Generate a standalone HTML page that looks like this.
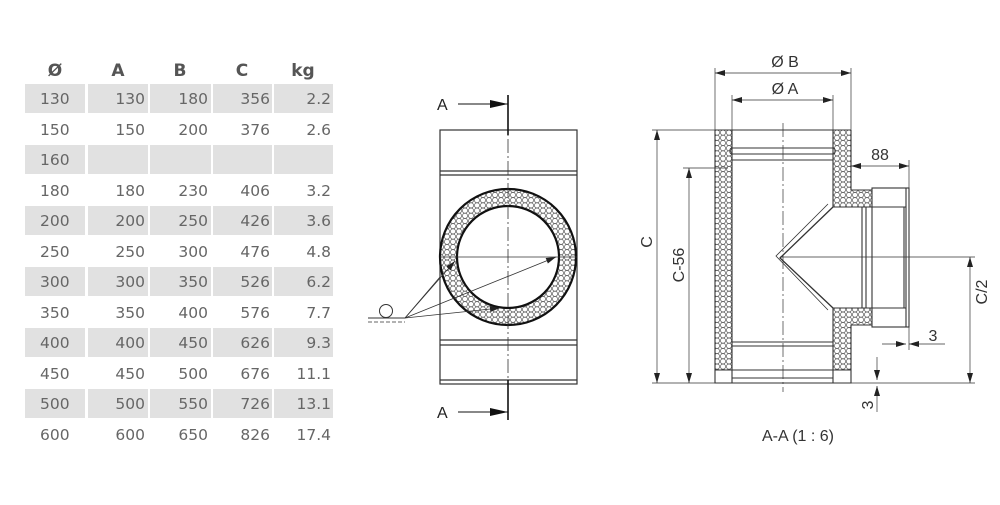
<!DOCTYPE html>
<html><head><meta charset="utf-8"><style>
body{margin:0;background:#fff;width:1000px;height:500px;overflow:hidden;font-family:"Liberation Sans","DejaVu Sans",sans-serif;}
</style></head><body>
<svg width="1000" height="500" viewBox="0 0 1000 500" xmlns="http://www.w3.org/2000/svg">
<defs>
<pattern id="hex" width="6" height="5.2" patternUnits="userSpaceOnUse">
<rect width="6" height="5.2" fill="#fff"/>
<circle cx="3" cy="2.6" r="2.6" fill="none" stroke="#444" stroke-width="0.6"/>
</pattern>
<marker id="ar" viewBox="0 0 10 6" refX="10" refY="3" markerWidth="10" markerHeight="6" orient="auto-start-reverse" markerUnits="userSpaceOnUse"><path d="M0,0 L10,3 L0,6z" fill="#222"/></marker>
<marker id="big" viewBox="0 0 18 8" refX="18" refY="4" markerWidth="18" markerHeight="8" orient="auto" markerUnits="userSpaceOnUse"><path d="M0,0 L18,4 L0,8z" fill="#111"/></marker>
</defs>

<!-- TABLE -->
<g font-family="DejaVu Sans, sans-serif" font-size="17" font-weight="bold" fill="#555" text-anchor="middle">
<text x="55" y="76">Ø</text><text x="118" y="76">A</text><text x="180" y="76">B</text><text x="242" y="76">C</text><text x="303" y="76">kg</text>
</g>
<g fill="#e1e1e1">
<rect x="25" y="84" width="60" height="29"/><rect x="88" y="84" width="60" height="29"/><rect x="150" y="84" width="61" height="29"/><rect x="213" y="84" width="59" height="29"/><rect x="274" y="84" width="59" height="29"/>
<rect x="25" y="145" width="60" height="29"/><rect x="88" y="145" width="60" height="29"/><rect x="150" y="145" width="61" height="29"/><rect x="213" y="145" width="59" height="29"/><rect x="274" y="145" width="59" height="29"/>
<rect x="25" y="206" width="60" height="29"/><rect x="88" y="206" width="60" height="29"/><rect x="150" y="206" width="61" height="29"/><rect x="213" y="206" width="59" height="29"/><rect x="274" y="206" width="59" height="29"/>
<rect x="25" y="267" width="60" height="29"/><rect x="88" y="267" width="60" height="29"/><rect x="150" y="267" width="61" height="29"/><rect x="213" y="267" width="59" height="29"/><rect x="274" y="267" width="59" height="29"/>
<rect x="25" y="328" width="60" height="29"/><rect x="88" y="328" width="60" height="29"/><rect x="150" y="328" width="61" height="29"/><rect x="213" y="328" width="59" height="29"/><rect x="274" y="328" width="59" height="29"/>
<rect x="25" y="389" width="60" height="29"/><rect x="88" y="389" width="60" height="29"/><rect x="150" y="389" width="61" height="29"/><rect x="213" y="389" width="59" height="29"/><rect x="274" y="389" width="59" height="29"/>
</g>
<g font-family="DejaVu Sans, sans-serif" font-size="15.5" fill="#666">
<g text-anchor="start">
<text x="40" y="104">130</text><text x="40" y="135">150</text><text x="40" y="165">160</text><text x="40" y="196">180</text><text x="40" y="226">200</text><text x="40" y="257">250</text><text x="40" y="287">300</text><text x="40" y="318">350</text><text x="40" y="348">400</text><text x="40" y="379">450</text><text x="40" y="409">500</text><text x="40" y="440">600</text>
</g>
<g text-anchor="end">
<text x="145" y="104">130</text><text x="208" y="104">180</text><text x="270" y="104">356</text><text x="331" y="104">2.2</text>
<text x="145" y="135">150</text><text x="208" y="135">200</text><text x="270" y="135">376</text><text x="331" y="135">2.6</text>
<text x="145" y="196">180</text><text x="208" y="196">230</text><text x="270" y="196">406</text><text x="331" y="196">3.2</text>
<text x="145" y="226">200</text><text x="208" y="226">250</text><text x="270" y="226">426</text><text x="331" y="226">3.6</text>
<text x="145" y="257">250</text><text x="208" y="257">300</text><text x="270" y="257">476</text><text x="331" y="257">4.8</text>
<text x="145" y="287">300</text><text x="208" y="287">350</text><text x="270" y="287">526</text><text x="331" y="287">6.2</text>
<text x="145" y="318">350</text><text x="208" y="318">400</text><text x="270" y="318">576</text><text x="331" y="318">7.7</text>
<text x="145" y="348">400</text><text x="208" y="348">450</text><text x="270" y="348">626</text><text x="331" y="348">9.3</text>
<text x="145" y="379">450</text><text x="208" y="379">500</text><text x="270" y="379">676</text><text x="331" y="379">11.1</text>
<text x="145" y="409">500</text><text x="208" y="409">550</text><text x="270" y="409">726</text><text x="331" y="409">13.1</text>
<text x="145" y="440">600</text><text x="208" y="440">650</text><text x="270" y="440">826</text><text x="331" y="440">17.4</text>
</g></g>

<!-- FRONT VIEW -->
<g stroke="#333" stroke-width="1.2" fill="none">
<rect x="440" y="130" width="137" height="254"/>
<line x1="440" y1="171" x2="577" y2="171"/><line x1="440" y1="175" x2="577" y2="175"/>
<line x1="440" y1="340" x2="577" y2="340"/><line x1="440" y1="345" x2="577" y2="345"/>
<line x1="440" y1="380" x2="577" y2="380"/>
</g>
<circle cx="508" cy="257" r="60" fill="none" stroke="url(#hex)" stroke-width="16"/>
<circle cx="508" cy="257" r="68" fill="none" stroke="#111" stroke-width="2.2"/>
<circle cx="508" cy="257" r="51" fill="#fff" stroke="#111" stroke-width="2.2"/>
<g stroke="#333" stroke-width="0.8" stroke-dasharray="14,3,2,3">
<line x1="508" y1="95" x2="508" y2="420"/>
<line x1="440" y1="257" x2="577" y2="257" stroke-dasharray="none"/>
</g>
<g stroke="#111" stroke-width="1.6">
<line x1="508" y1="95" x2="508" y2="135"/><line x1="508" y1="380" x2="508" y2="420"/>
</g>
<g stroke="#111" stroke-width="1">
<line x1="458" y1="104" x2="508" y2="104" marker-end="url(#big)"/>
<line x1="458" y1="412" x2="508" y2="412" marker-end="url(#big)"/>
</g>
<g font-size="16" fill="#222"><text x="437" y="110">A</text><text x="437" y="418">A</text></g>
<circle cx="386" cy="311" r="6.5" fill="none" stroke="#333" stroke-width="1"/>
<line x1="368" y1="318" x2="405" y2="318" stroke="#333" stroke-width="1"/>
<line x1="368" y1="322" x2="405" y2="322" stroke="#333" stroke-width="0.8" stroke-dasharray="4,2"/>
<g stroke="#333" stroke-width="0.8" fill="none">
<line x1="405" y1="318" x2="440" y2="277"/>
<line x1="405" y1="318" x2="455" y2="261" marker-end="url(#ar)"/>
<line x1="405" y1="318" x2="556" y2="257" marker-end="url(#ar)"/>
<line x1="405" y1="318" x2="500" y2="308" marker-end="url(#ar)"/>
</g>

<!-- SECTION VIEW -->
<path d="M715,130 H732 V370 H715 Z" fill="url(#hex)"/>
<path d="M833,130 H851 V190 H872 V207 H833 Z" fill="url(#hex)"/>
<path d="M833,308 H872 V325 H851 V370 H833 Z" fill="url(#hex)"/>
<g stroke="#333" stroke-width="1.1" fill="none">
<path d="M715,130 V383 H851 V325 H872 M851,130 V190 H872"/>
<line x1="715" y1="130" x2="851" y2="130"/>
<line x1="732" y1="130" x2="732" y2="383"/>
<line x1="833" y1="130" x2="833" y2="207"/><line x1="833" y1="308" x2="833" y2="383"/>
<rect x="730" y="148" width="105" height="6" rx="2"/>
<line x1="732" y1="160" x2="833" y2="160"/>
<line x1="732" y1="342" x2="833" y2="342"/><line x1="732" y1="346" x2="833" y2="346"/>
<line x1="715" y1="370" x2="851" y2="370"/>
<line x1="732" y1="378" x2="833" y2="378"/>
<rect x="872" y="188" width="37" height="139"/>
<line x1="906" y1="188" x2="906" y2="327"/>
<line x1="833" y1="207" x2="906" y2="207"/><line x1="833" y1="308" x2="906" y2="308"/>
<line x1="862" y1="207" x2="862" y2="308"/><line x1="866" y1="207" x2="866" y2="308"/>
<line x1="904" y1="207" x2="904" y2="308"/>
<path d="M833,207 L780,258 L833,308" stroke-width="1.3"/>
<path d="M828,204 L776,256 L828,310" stroke-width="0.8"/>
</g>
<g stroke="#333" stroke-width="0.7" stroke-dasharray="14,3,2,3">
<line x1="783" y1="123" x2="783" y2="392"/>
</g>
<g stroke="#333" stroke-width="0.7" fill="none">
<line x1="780" y1="257" x2="975" y2="257"/>
<line x1="652" y1="130" x2="715" y2="130"/>
<line x1="652" y1="383" x2="975" y2="383"/>
<line x1="683" y1="168" x2="728" y2="168"/>
<line x1="715" y1="68" x2="715" y2="130"/><line x1="851" y1="68" x2="851" y2="130"/>
<line x1="732" y1="95" x2="732" y2="140"/><line x1="833" y1="95" x2="833" y2="140"/>
<line x1="909" y1="160" x2="909" y2="188"/>
<line x1="909" y1="327" x2="909" y2="350"/>
<line x1="715" y1="73" x2="851" y2="73" marker-start="url(#ar)" marker-end="url(#ar)"/>
<line x1="732" y1="100" x2="833" y2="100" marker-start="url(#ar)" marker-end="url(#ar)"/>
<line x1="657" y1="130" x2="657" y2="383" marker-start="url(#ar)" marker-end="url(#ar)"/>
<line x1="689" y1="168" x2="689" y2="383" marker-start="url(#ar)" marker-end="url(#ar)"/>
<line x1="851" y1="166" x2="909" y2="166" marker-start="url(#ar)" marker-end="url(#ar)"/>
<line x1="970" y1="257" x2="970" y2="383" marker-start="url(#ar)" marker-end="url(#ar)"/>
<line x1="882" y1="344" x2="906" y2="344" marker-end="url(#ar)"/>
<line x1="945" y1="344" x2="909" y2="344" marker-end="url(#ar)"/>
<line x1="877" y1="357" x2="877" y2="380" marker-end="url(#ar)"/>
<line x1="877" y1="412" x2="877" y2="386" marker-end="url(#ar)"/>
</g>
<g font-size="16" fill="#333" text-anchor="middle">
<text x="785" y="67">Ø B</text>
<text x="785" y="94">Ø A</text>
<text x="880" y="160">88</text>
<text x="933" y="341">3</text>
<text transform="translate(652,242) rotate(-90)">C</text>
<text transform="translate(684,265) rotate(-90)">C-56</text>
<text transform="translate(987,292) rotate(-90)">C/2</text>
<text transform="translate(873,405) rotate(-90)">3</text>
<text x="798" y="441">A-A  (1 : 6)</text>
</g>
</svg>
</body></html>
